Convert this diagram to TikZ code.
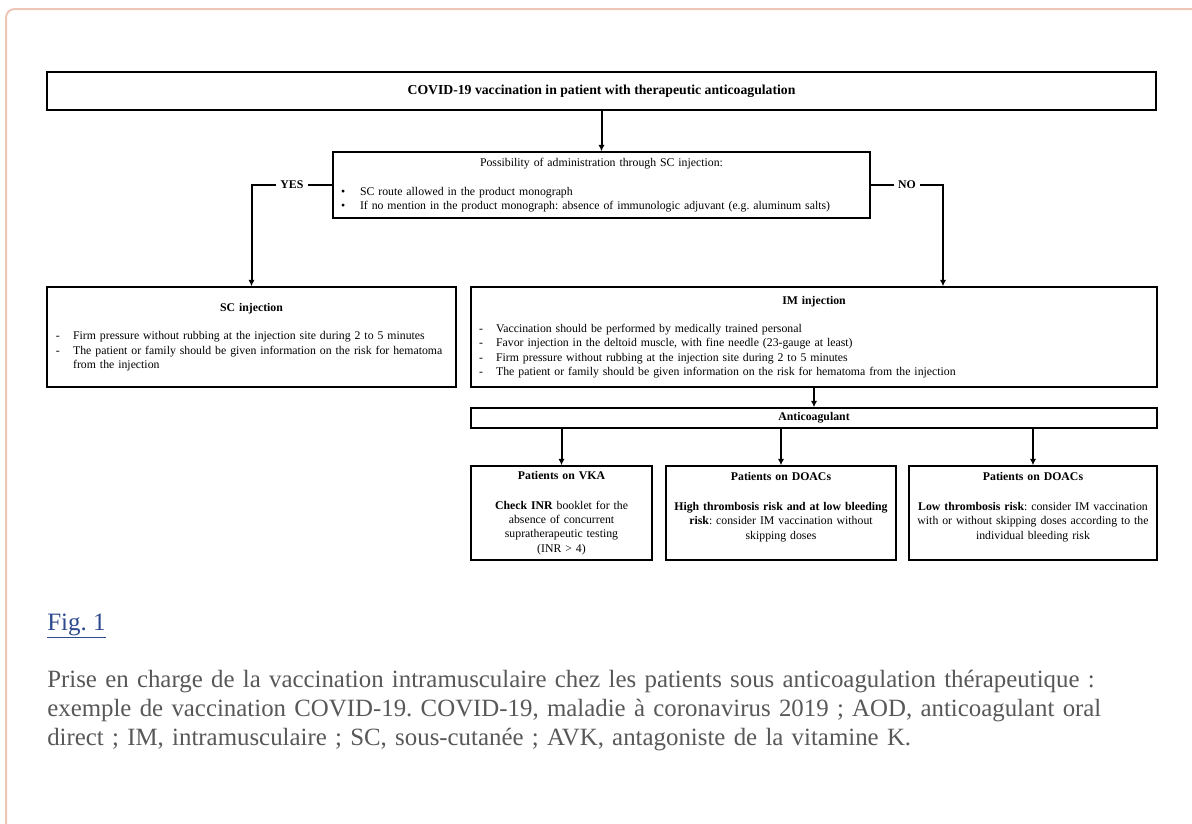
\documentclass[tikz,border=0pt]{standalone}
\usepackage{fontspec}
\setmainfont{Liberation Serif}
\usetikzlibrary{arrows.meta,shadows}
\setlength{\parindent}{0pt}
\frenchspacing
\definecolor{framepeach}{RGB}{238,198,182}
\definecolor{capgray}{RGB}{88,88,88}
\definecolor{figblue}{RGB}{46,74,142}
\newcommand{\bul}{\makebox[13.3pt][l]{\textbullet}}
\newcommand{\dsh}{\makebox[12pt][l]{-}}

\begin{document}
\begin{tikzpicture}[x=0.7pt,y=-0.7pt,
	box/.style={draw,line width=1.1pt,inner ysep=0pt,fill=white,font=\fontsize{8.25}{10}\selectfont,
		drop shadow={shadow xshift=0.6pt,shadow yshift=-0.6pt,fill=black!35}},
	arr/.style={line width=1.4pt,-{Latex[length=4.5pt,width=4.5pt]}},
	yesno/.style={fill=white,inner sep=3pt,font=\fontsize{8.25}{10}\selectfont\bfseries}]
			\clip (0,0) rectangle (1192,823);
			\draw[framepeach,line width=1.4pt,rounded corners=6] (1200,9)--(6,9)--(6,830);
			\node[box,minimum width=776.3pt,minimum height=26.6pt,font=\fontsize{9.6}{11}\selectfont\bfseries] (covid) at (601.5,91) {COVID-19 vaccination in patient with therapeutic anticoagulation};
			\node[box,text width=364.7pt,inner xsep=5.6pt,minimum height=46.2pt,align=left] (poss) at (601.5,185) {{\centering Possibility of administration through SC injection:\par}\vspace{10pt}
				\bul SC route allowed in the product monograph\\
				\bul If no mention in the product monograph: absence of immunologic adjuvant (e.g. aluminum salts)};
			\node[box,text width=273.7pt,inner xsep=6.3pt,minimum height=70pt,align=left] (sc) at (251.5,337) {{\centering\bfseries SC injection\par}\vspace{10pt}
				\dsh Firm pressure without rubbing at the injection site during 2 to 5 minutes\\
				\dsh The patient or family should be given information on the risk for hematoma\\
				\hspace*{12pt}from the injection};
			\node[box,text width=469pt,inner xsep=5.6pt,minimum height=70pt,align=left] (im) at (814,337) {{\centering\bfseries IM injection\par}\vspace{10pt}
				\dsh Vaccination should be performed by medically trained personal\\
				\dsh Favor injection in the deltoid muscle, with fine needle (23-gauge at least)\\
				\dsh Firm pressure without rubbing at the injection site during 2 to 5 minutes\\
				\dsh The patient or family should be given information on the risk for hematoma from the injection};
			\node[box,minimum width=480.2pt,minimum height=14pt,font=\fontsize{8.25}{10}\selectfont\bfseries] (anti) at (814,418) {Anticoagulant};
			\node[box,text width=124.7pt,inner xsep=1pt,minimum height=65.8pt,align=center] (vka) at (561.5,513) {\textbf{Patients on VKA}\\[11pt]
				\textbf{Check INR} booklet for the\\ absence of concurrent\\ supratherapeutic testing\\ (INR > 4)};
			\node[box,text width=159pt,inner xsep=1pt,minimum height=65.8pt,align=center] (doaca) at (781,513) {\textbf{Patients on DOACs}\\[11pt]
				\textbf{High thrombosis risk and at low bleeding}\\ \textbf{risk}: consider IM vaccination without\\ skipping doses\\ \mbox{}};
			\node[box,text width=171.6pt,inner xsep=1pt,minimum height=65.8pt,align=center] (doacb) at (1033,513) {\textbf{Patients on DOACs}\\[11pt]
				\textbf{Low thrombosis risk}: consider IM vaccination\\ with or without skipping doses according to the\\ individual bleeding risk\\ \mbox{}};
			\draw[arr] (covid)--(poss);
			\draw[arr] (poss.west) -| node[yesno,pos=0.25] {YES} (sc.north);
			\coordinate (nobend) at (943,185);
			\draw[arr] (poss.east)--node[yesno] {NO} (nobend)--(nobend |- im.north);
			\draw[arr] (im)--(anti);
			\draw[arr] (anti.south -| vka.north)--(vka.north);
			\draw[arr] (anti.south -| doaca.north)--(doaca.north);
			\draw[arr] (anti.south -| doacb.north)--(doacb.north);
			\node[anchor=west,inner sep=0pt,text=figblue,font=\fontsize{17.5}{20}\selectfont] (figlabel) at (47,626) {\underline{Fig. 1}};
			\node[anchor=north west,inner sep=0pt,text width=810pt,align=left,text=capgray,font=\fontsize{17.4}{20.3}\selectfont] (caption) at (47,670) {Prise en charge de la vaccination intramusculaire chez les patients sous anticoagulation thérapeutique :\\
				exemple de vaccination COVID-19. COVID-19, maladie à coronavirus 2019 ; AOD, anticoagulant oral\\
				direct ; IM, intramusculaire ; SC, sous-cutanée ; AVK, antagoniste de la vitamine K.};
		\end{tikzpicture}
\end{document}
